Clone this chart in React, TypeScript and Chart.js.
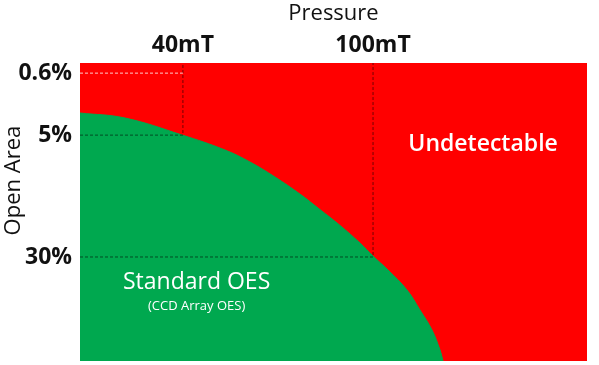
import React, { useEffect, useRef } from "react";
import { Chart, registerables } from "chart.js";

Chart.register(...registerables);

// Normalised axis positions (0–100 along each axis)
const pressureTickValues = [20.3, 57.8];
const pressureTickLabels = ["40mT", "100mT"];
const areaTickValues = [3.4, 24.2, 65.1];
const areaTickLabels = ["0.6%", "5%", "30%"];

// Boundary between detectable (Standard OES) and undetectable region
const boundaryPressure = [0, 8.88, 20.12, 28.6, 33.53, 38.46, 43.39, 47.34, 51.28, 55.23, 57.79, 60.75, 64.5, 67.06, 69.43, 71.01, 71.6];
const boundaryArea = [16.78, 18.46, 24.16, 29.19, 33.22, 38.26, 44.0, 49.2, 54.5, 60.4, 64.77, 69.46, 76.17, 82.89, 89.6, 96.31, 100];

// Region labels
const regionLabelText = ["Undetectable", "Standard OES", "(CCD Array OES)"];
const regionLabelPressure = [79.5, 23.0, 23.0];
const regionLabelArea = [27.2, 73.8, 81.5];
const regionLabelSize = [23, 23, 13];
const regionLabelWeight = ["600", "400", "400"];

const FONT = "'Open Sans', 'Noto Sans', sans-serif";

const labelPlugin = {
  id: "regionLabels",
  afterDatasetsDraw(chart: any) {
    const { ctx, scales } = chart;
    ctx.save();
    ctx.fillStyle = "#ffffff";
    ctx.textAlign = "center";
    ctx.textBaseline = "middle";
    regionLabelText.forEach((t, i) => {
      ctx.font = `${regionLabelWeight[i]} ${regionLabelSize[i]}px ${FONT}`;
      ctx.fillText(t, scales.x.getPixelForValue(regionLabelPressure[i]), scales.y.getPixelForValue(regionLabelArea[i]));
    });
    ctx.restore();
  },
};

export default function App() {
  const ref = useRef<HTMLCanvasElement>(null);
  useEffect(() => {
    if (!ref.current) return;
    const boundary = boundaryPressure.map((x, i) => ({ x, y: boundaryArea[i] }));
    const guide = "rgba(0,0,0,0.55)";
    const chart = new Chart(ref.current, {
      type: "line",
      data: {
        datasets: [
          {
            label: "dash06",
            data: [{ x: 0, y: areaTickValues[0] }, { x: pressureTickValues[0], y: areaTickValues[0] }],
            borderColor: "rgba(255,225,225,0.9)",
            borderWidth: 1,
            borderDash: [3, 2],
            pointRadius: 0,
            fill: false,
            order: 0,
          },
          {
            label: "guide40",
            data: [
              { x: 0, y: areaTickValues[1] },
              { x: pressureTickValues[0], y: areaTickValues[1] },
              { x: pressureTickValues[0], y: 0 },
            ],
            borderColor: guide,
            borderWidth: 1,
            borderDash: [3, 2],
            pointRadius: 0,
            tension: 0,
            fill: false,
            order: 0,
          },
          {
            label: "guide100",
            data: [
              { x: 0, y: areaTickValues[2] },
              { x: pressureTickValues[1], y: areaTickValues[2] },
              { x: pressureTickValues[1], y: 0 },
            ],
            borderColor: guide,
            borderWidth: 1,
            borderDash: [3, 2],
            pointRadius: 0,
            tension: 0,
            fill: false,
            order: 0,
          },
          {
            label: "Standard OES",
            data: boundary,
            borderColor: "#00A84F",
            borderWidth: 1,
            backgroundColor: "#00A84F",
            pointRadius: 0,
            tension: 0.4,
            fill: "start",
            order: 1,
          },
          {
            label: "Undetectable",
            data: [{ x: 0, y: 0 }, { x: 100, y: 0 }],
            borderColor: "#FF0000",
            borderWidth: 0,
            backgroundColor: "#FF0000",
            pointRadius: 0,
            fill: "start",
            order: 2,
          },
        ],
      },
      options: {
        animation: false,
        responsive: true,
        maintainAspectRatio: false,
        layout: { padding: { left: 0, top: 0, right: 12, bottom: 4 } },
        plugins: { legend: { display: false }, tooltip: { enabled: false } },
        scales: {
          x: {
            type: "linear",
            position: "top",
            min: 0,
            max: 100,
            grid: { display: false, drawTicks: false },
            border: { display: false },
            afterBuildTicks: (s: any) => {
              s.ticks = pressureTickValues.map((v) => ({ value: v }));
            },
            afterFit: (s: any) => {
              s.height = 63;
              s.paddingLeft = 0;
              s.paddingRight = 0;
            },
            ticks: {
              autoSkip: false,
              maxRotation: 0,
              padding: 4,
              color: "#111",
              font: { family: FONT, size: 23, weight: "bold" },
              callback: (v: any) => pressureTickLabels[pressureTickValues.indexOf(v)] ?? "",
            },
            title: {
              display: true,
              text: "Pressure",
              color: "#111",
              font: { family: FONT, size: 22 },
              padding: { top: 1, bottom: 0 },
            },
          },
          y: {
            type: "linear",
            reverse: true,
            min: 0,
            max: 100,
            grid: { display: false, drawTicks: false },
            border: { display: false },
            afterBuildTicks: (s: any) => {
              s.ticks = areaTickValues.map((v) => ({ value: v }));
            },
            afterFit: (s: any) => {
              s.width = 80;
              s.paddingTop = 0;
              s.paddingBottom = 0;
            },
            ticks: {
              autoSkip: false,
              padding: 8,
              color: "#111",
              font: { family: FONT, size: 23, weight: "bold" },
              callback: (v: any) => areaTickLabels[areaTickValues.indexOf(v)] ?? "",
            },
            title: {
              display: true,
              text: "           Open Area",
              color: "#111",
              font: { family: FONT, size: 22 },
              padding: { top: 1, bottom: 0 },
            },
          },
        },
      },
      plugins: [labelPlugin],
    } as any);
    return () => chart.destroy();
  }, []);
  return (
    <div style={{ position: "absolute", left: 0, top: 0, width: 599, height: 365, background: "#fff" }}>
      <canvas ref={ref} />
    </div>
  );
}
